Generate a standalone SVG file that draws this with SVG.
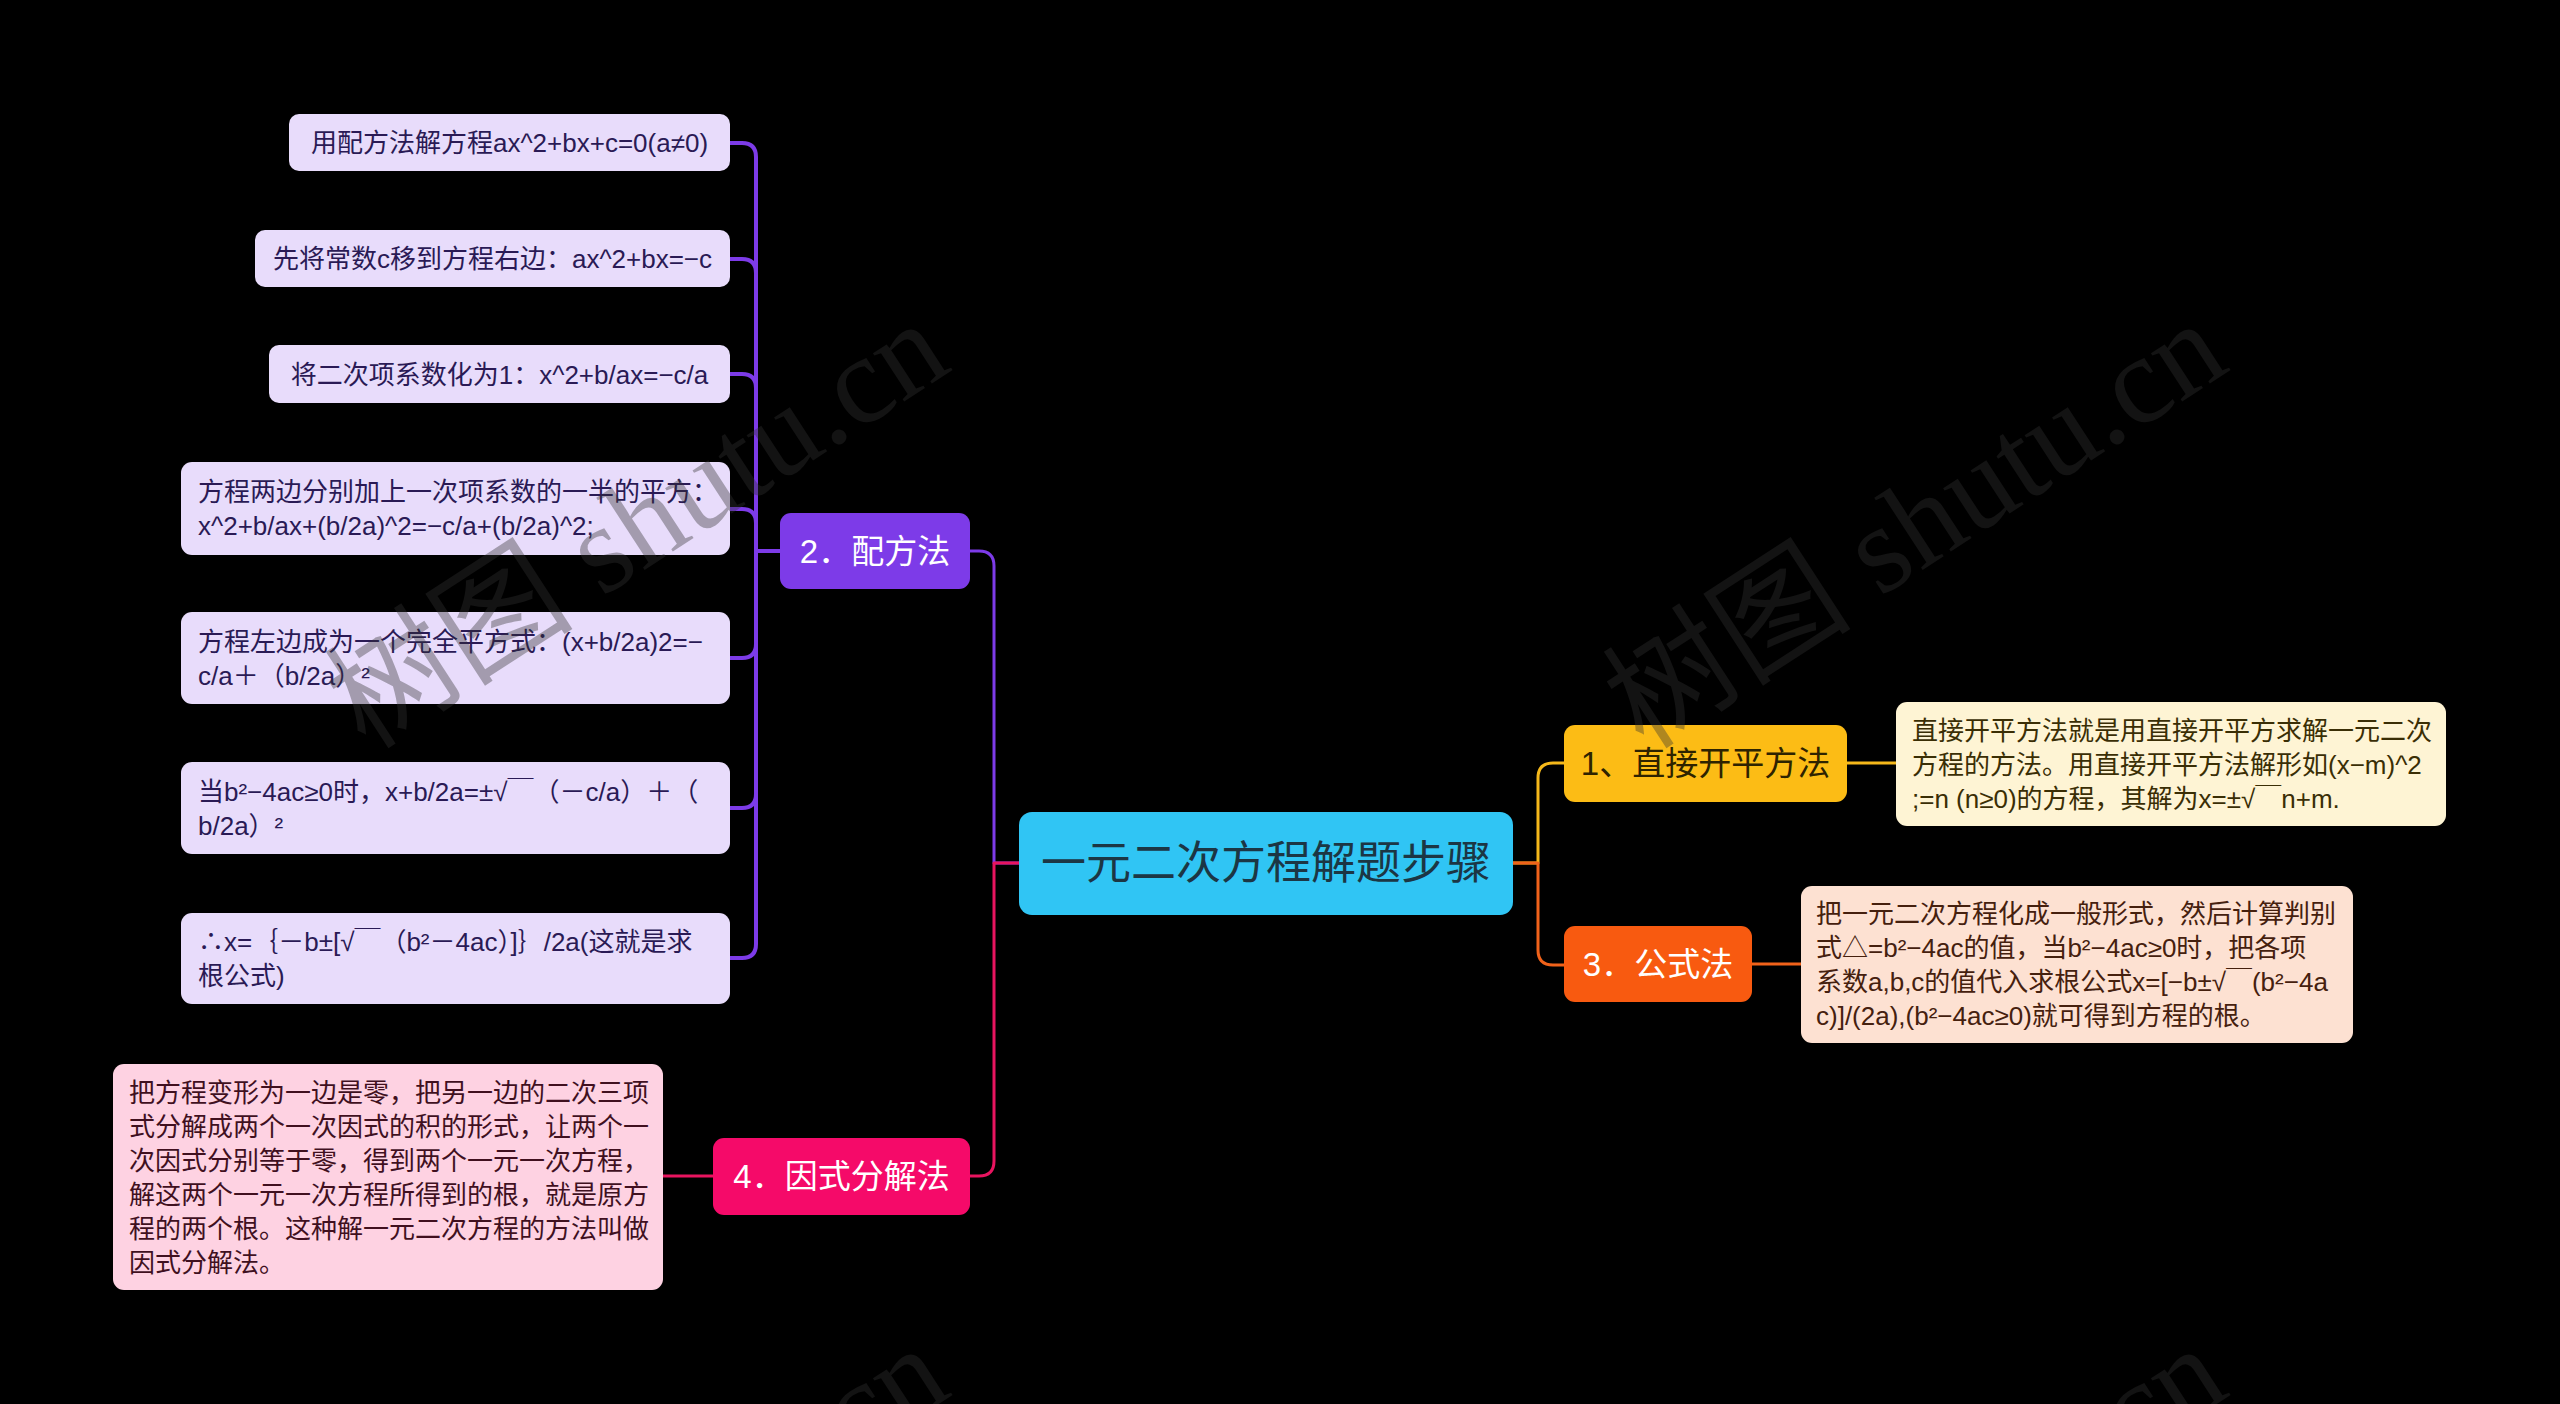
<svg xmlns="http://www.w3.org/2000/svg" width="2560" height="1404" viewBox="0 0 2560 1404">
<style>
.t{font-family:"Liberation Sans","Noto Sans CJK SC",sans-serif}
.d{font-size:26px}
.l1{font-size:33px;text-anchor:middle}
.c{fill:none;stroke-width:3;stroke-linecap:round;stroke-linejoin:round}
.cc{fill:none;stroke-width:4;stroke-linecap:round;stroke-linejoin:round}
.p{stroke:#7d3be8}.k{stroke:#e8145f}.a{stroke:#f5b81a}.o{stroke:#f0621a}
.wm{font-family:"Liberation Serif","Noto Sans CJK SC",serif;font-size:125px;fill:#333;fill-opacity:0.38;text-anchor:middle}
</style>
<rect width="2560" height="1404" fill="#000"/>
<g id="connectors">
<path class="c p" d="M1019,863 H994 V566 Q994,551 979,551 H970"/>
<path class="c k" d="M1019,863 H994 V1161 Q994,1176 979,1176 H970"/>
<path class="c a" d="M1513,863 H1538 V778 Q1538,763 1553,763 H1564"/>
<path class="c o" d="M1513,863 H1538 V950 Q1538,965 1553,965 H1564"/>
<path class="c a" d="M1847,763 H1896"/>
<path class="c o" d="M1752,964 H1801"/>
<path class="c k" d="M713,1176 H663"/>
<path class="cc p" d="M780,551 H756 V157 Q756,143 742,143 H730"/>
<path class="cc p" d="M756,273 Q756,259 742,259 H730"/>
<path class="cc p" d="M756,388 Q756,374 742,374 H730"/>
<path class="cc p" d="M756,523 Q756,509 742,509 H730"/>
<path class="cc p" d="M780,551 H756 V944 Q756,958 742,958 H730"/>
<path class="cc p" d="M756,644 Q756,658 742,658 H730"/>
<path class="cc p" d="M756,794 Q756,808 742,808 H730"/>
</g>
<g id="root">
<rect x="1019" y="812" width="494" height="103" rx="13" fill="#30c5f4"/>
<text class="t" x="1266" y="879" font-size="45" text-anchor="middle" fill="#1c3644">一元二次方程解题步骤</text>
</g>
<g id="n1">
<rect x="1564" y="725" width="283" height="77" rx="11" fill="#fcbc15"/>
<text class="t l1" x="1705.5" y="775" fill="#2e2300">1、直接开平方法</text>
</g>
<g id="n1d">
<rect x="1896" y="702" width="550" height="124" rx="11" fill="#fef4d4"/>
<text class="t d" fill="#3a2e05"><tspan x="1912" y="740">直接开平方法就是用直接开平方求解一元二次</tspan><tspan x="1912" y="774">方程的方法。用直接开平方法解形如(x−m)^2</tspan><tspan x="1912" y="808">;=n (n≥0)的方程，其解为x=±√￣n+m.</tspan></text>
</g>
<g id="n3">
<rect x="1564" y="926" width="188" height="76" rx="11" fill="#f85a10"/>
<text class="t l1" x="1658" y="976" fill="#fff">3．公式法</text>
</g>
<g id="n3d">
<rect x="1801" y="886" width="552" height="157" rx="11" fill="#fde1d2"/>
<text class="t d" fill="#45200e"><tspan x="1816" y="923">把一元二次方程化成一般形式，然后计算判别</tspan><tspan x="1816" y="957">式△=b²−4ac的值，当b²−4ac≥0时，把各项</tspan><tspan x="1816" y="991">系数a,b,c的值代入求根公式x=[−b±√￣(b²−4a</tspan><tspan x="1816" y="1025">c)]/(2a),(b²−4ac≥0)就可得到方程的根。</tspan></text>
</g>
<g id="n2">
<rect x="780" y="513" width="190" height="76" rx="11" fill="#7d3be8"/>
<text class="t l1" x="875" y="563" fill="#fff">2．配方法</text>
</g>
<g id="n2a">
<rect x="289" y="114" width="441" height="57" rx="10" fill="#e8dcfb"/>
<text class="t d" x="509.5" y="152" text-anchor="middle" fill="#2a1a55">用配方法解方程ax^2+bx+c=0(a≠0)</text>
</g>
<g id="n2b">
<rect x="255" y="230" width="475" height="57" rx="10" fill="#e8dcfb"/>
<text class="t d" x="492.5" y="268" text-anchor="middle" fill="#2a1a55">先将常数c移到方程右边：ax^2+bx=−c</text>
</g>
<g id="n2c">
<rect x="269" y="345" width="461" height="58" rx="10" fill="#e8dcfb"/>
<text class="t d" x="499.5" y="384" text-anchor="middle" fill="#2a1a55">将二次项系数化为1：x^2+b/ax=−c/a</text>
</g>
<g id="n2d">
<rect x="181" y="462" width="549" height="93" rx="11" fill="#e8dcfb"/>
<text class="t d" fill="#2a1a55"><tspan x="198" y="501">方程两边分别加上一次项系数的一半的平方：</tspan><tspan x="198" y="535">x^2+b/ax+(b/2a)^2=−c/a+(b/2a)^2;</tspan></text>
</g>
<g id="n2e">
<rect x="181" y="612" width="549" height="92" rx="11" fill="#e8dcfb"/>
<text class="t d" fill="#2a1a55"><tspan x="198" y="651">方程左边成为一个完全平方式：(x+b/2a)2=−</tspan><tspan x="198" y="685">c/a＋（b/2a）²</tspan></text>
</g>
<g id="n2f">
<rect x="181" y="762" width="549" height="92" rx="11" fill="#e8dcfb"/>
<text class="t d" fill="#2a1a55"><tspan x="198" y="801">当b²−4ac≥0时，x+b/2a=±√￣（－c/a）＋（</tspan><tspan x="198" y="835">b/2a）²</tspan></text>
</g>
<g id="n2g">
<rect x="181" y="913" width="549" height="91" rx="11" fill="#e8dcfb"/>
<text class="t d" fill="#2a1a55"><tspan x="198" y="951">∴x=｛－b±[√￣（b²－4ac）]｝/2a(这就是求</tspan><tspan x="198" y="985">根公式)</tspan></text>
</g>
<g id="n4">
<rect x="713" y="1138" width="257" height="77" rx="11" fill="#f50a69"/>
<text class="t l1" x="841.5" y="1188" fill="#fff">4．因式分解法</text>
</g>
<g id="n4d">
<rect x="113" y="1064" width="550" height="226" rx="11" fill="#fed2e2"/>
<text class="t d" fill="#40101f"><tspan x="129" y="1102">把方程变形为一边是零，把另一边的二次三项</tspan><tspan x="129" y="1136">式分解成两个一次因式的积的形式，让两个一</tspan><tspan x="129" y="1170">次因式分别等于零，得到两个一元一次方程，</tspan><tspan x="129" y="1204">解这两个一元一次方程所得到的根，就是原方</tspan><tspan x="129" y="1238">程的两个根。这种解一元二次方程的方法叫做</tspan><tspan x="129" y="1272">因式分解法。</tspan></text>
</g>
<g id="watermarks">
<text class="wm" transform="translate(660,560) rotate(-33)">树图 shutu.cn</text>
<text class="wm" transform="translate(1938,560) rotate(-33)">树图 shutu.cn</text>
<text class="wm" transform="translate(660,1585) rotate(-33)">树图 shutu.cn</text>
<text class="wm" transform="translate(1938,1585) rotate(-33)">树图 shutu.cn</text>
</g>
</svg>
